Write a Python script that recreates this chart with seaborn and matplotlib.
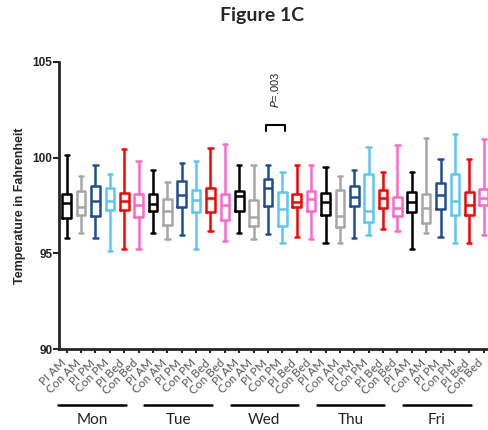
import numpy as np
import pandas as pd
import matplotlib
matplotlib.use('Agg')
import matplotlib.pyplot as plt
import matplotlib.transforms as mtransforms
import seaborn as sns

days = ['Mon', 'Tue', 'Wed', 'Thu', 'Fri']
conditions = ['PI AM', 'Con AM', 'PI PM', 'Con PM', 'PI Bed', 'Con Bed']
colors = ['#000000', '#A6A6A6', '#1F4E8F', '#5CC6F5', '#FF0000', '#FF66CC']

# five-number summaries (30 boxes, day by day)
mins = [95.82, 96.08, 95.82, 95.13, 95.23, 95.23,
        96.08, 95.73, 95.94, 95.23, 96.15, 95.65,
        96.07, 95.77, 96.03, 95.54, 95.85, 95.73,
        95.54, 95.56, 95.80, 95.97, 96.25, 96.15,
        95.25, 96.06, 95.85, 95.54, 95.54, 95.97]
q1 = [96.84, 97.03, 96.94, 97.29, 97.29, 96.89,
      97.20, 96.46, 97.44, 97.15, 97.15, 96.72,
      97.20, 96.42, 97.46, 96.42, 97.41, 97.23,
      97.01, 96.37, 97.46, 96.66, 97.36, 96.94,
      97.15, 96.58, 97.32, 97.01, 97.01, 97.53]
medians = [97.63, 97.41, 97.75, 97.75, 97.75, 97.54,
           97.58, 97.23, 98.05, 97.79, 97.88, 97.50,
           97.97, 96.92, 98.39, 97.32, 97.67, 97.84,
           97.67, 96.94, 97.93, 97.23, 97.88, 97.36,
           97.67, 97.36, 98.05, 97.75, 97.50, 97.88]
q3 = [98.10, 98.27, 98.53, 98.39, 98.15, 98.10,
      98.10, 97.84, 98.76, 98.32, 98.41, 98.10,
      98.25, 97.79, 98.88, 98.22, 98.10, 98.27,
      98.15, 98.31, 98.53, 99.13, 98.31, 97.93,
      98.19, 98.10, 98.67, 99.13, 98.22, 98.36]
maxs = [100.13, 99.05, 99.62, 99.13, 100.43, 99.83,
        99.34, 98.75, 99.74, 99.83, 100.52, 100.72,
        99.63, 99.62, 99.62, 99.26, 99.62, 99.62,
        99.53, 99.05, 99.34, 100.55, 99.27, 100.65,
        99.26, 101.04, 99.95, 101.24, 99.95, 100.95]

p_label = r'$P$=.003'
p_pair = (14, 15)   # Wed PI PM vs Con PM
bracket_top = 101.72
bracket_leg = 101.38

# five points per box -> quartiles land exactly on the summary values
rows = []
for i in range(len(mins)):
    key = f"{days[i // 6]} {conditions[i % 6]}"
    for v in (mins[i], q1[i], medians[i], q3[i], maxs[i]):
        rows.append({'box': key, 'cond': conditions[i % 6], 'temp': v})
df = pd.DataFrame(rows)
order = [f"{d} {c}" for d in days for c in conditions]

sns.set_style('ticks')
plt.rcParams['font.family'] = ['Liberation Sans', 'DejaVu Sans']

fig = plt.figure(figsize=(4.89, 4.30), dpi=100)
ax = fig.add_axes([59.5 / 489, 1 - 349.3 / 430, (488 - 59.5) / 489, (349.3 - 61.7) / 430])

sns.boxplot(data=df, x='box', y='temp', hue='cond', order=order,
            hue_order=conditions, palette=colors, fill=False, dodge=False,
            whis=(0, 100), width=0.6, linewidth=1.8, legend=False, ax=ax)

ax.set_ylim(90, 105)
ax.set_xlim(-0.5, 29.3)
ax.set_yticks([90, 95, 100, 105])
ax.set_yticklabels(['90', '95', '100', '105'], fontsize=8.5, fontweight='bold',
                   color='#222222')
ax.set_xticks(range(len(order)))
ax.set_xticklabels([])
ax.tick_params(axis='y', length=4, width=1.5, pad=1)
ax.tick_params(axis='x', length=3, width=1.5)
ax.set_xlabel('')
ax.set_ylabel('Temperature in Fahrenheit', fontsize=9, fontweight='bold', labelpad=5)
sns.despine(ax=ax)
for s in ('left', 'bottom'):
    ax.spines[s].set_linewidth(2)

xt = ax.get_xaxis_transform()

# condition labels, drawn by hand so they sit a little down-left of each tick
lab_tr = mtransforms.offset_copy(xt, fig=fig, x=-6, y=-8, units='dots')
for i in range(len(order)):
    ax.text(i, 0, conditions[i % 6], transform=lab_tr, rotation=45,
            ha='right', va='top', rotation_mode='anchor', fontsize=8.5,
            color='#555555', family=['Lato', 'DejaVu Sans'])

# day group bars under the tick labels
for g, d in enumerate(days):
    ax.plot([6 * g - 0.6, 6 * g + 4.1], [-0.194, -0.194], color='black', lw=1.8,
            transform=xt, clip_on=False)
    ax.text(6 * g + 1.75, -0.245, d, transform=xt, ha='center', va='center',
            fontsize=11, color='#222222', family=['Lato', 'DejaVu Sans'])

# significance bracket
a, b = p_pair
ax.plot([a - 0.15, a - 0.15, b + 0.15, b + 0.15],
        [bracket_leg, bracket_top, bracket_top, bracket_leg], color='black', lw=1.5)
ax.text((a + b) / 2, 102.6, p_label, rotation=90, ha='center', va='bottom',
        fontsize=8, color='#222222')

fig.text(262 / 489, 1 - 15 / 430, 'Figure 1C', ha='center', va='center',
         fontsize=14, fontweight='bold', family=['Lato', 'DejaVu Sans'])

fig.savefig('out.png', dpi=100)
